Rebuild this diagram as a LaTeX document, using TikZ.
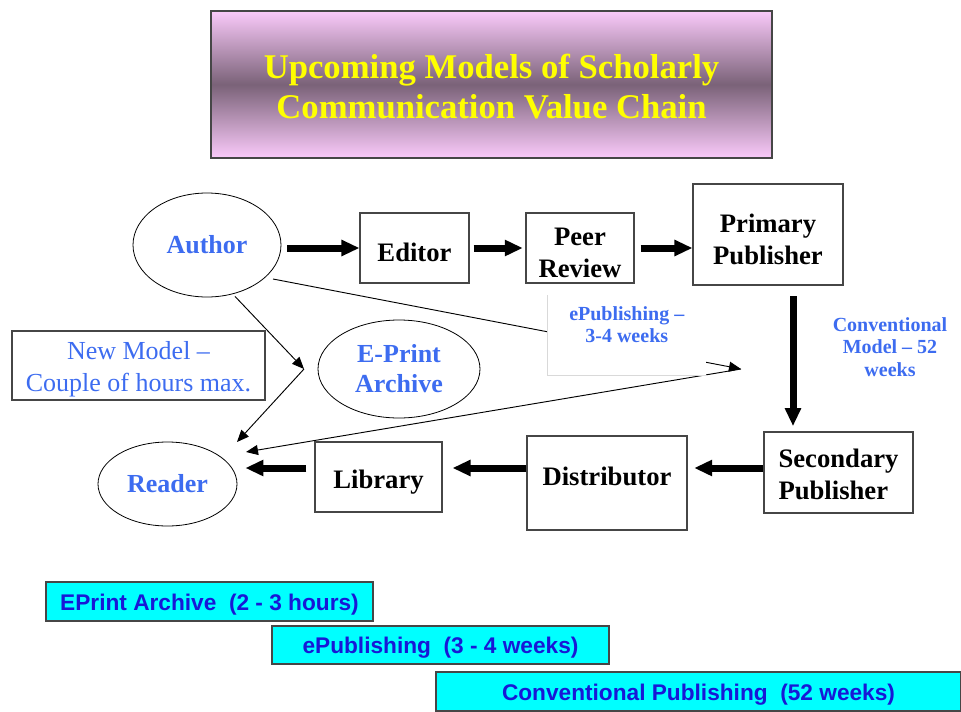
\documentclass[tikz,border=0pt]{standalone}
\usepackage{fontspec}
\setmainfont{Liberation Serif}
\newfontfamily\barfont{Liberation Sans}
\usetikzlibrary{arrows.meta}
\usetikzlibrary{shapes.geometric}
\usetikzlibrary{positioning}

\definecolor{labelblue}{RGB}{61,108,240}
\definecolor{barblue}{RGB}{24,24,214}
\definecolor{barcyan}{RGB}{0,255,255}
\definecolor{titlepink}{RGB}{250,202,250}
\definecolor{titlemauve}{RGB}{122,98,120}
\definecolor{titleyellow}{RGB}{255,255,0}
\definecolor{edgegray}{RGB}{70,70,70}

\tikzset{
  box/.style={draw=edgegray,line width=0.8pt,fill=white,align=center,text height=20pt,font=\bfseries\fontsize{20}{24}\selectfont},
  oval/.style={draw,ellipse,line width=0.6pt,fill=white,align=center,text=labelblue,font=\bfseries\fontsize{19.5}{22.5}\selectfont},
  flow/.style={line width=5.25pt,-{Triangle[length=13.5pt,width=11.5pt]}},
  link/.style={line width=0.7pt,-{Triangle[length=9pt,width=7.5pt]}},
  note/.style={text=labelblue,align=center,font=\bfseries\fontsize{15}{17}\selectfont},
  bar/.style={draw=edgegray,line width=0.8pt,fill=barcyan,text=barblue,text height=16.5pt,text depth=3.5pt,font=\barfont\bfseries\fontsize{17}{20}\selectfont},
}

\begin{document}
\begin{tikzpicture}[x=0.75pt,y=-0.75pt]
  \useasboundingbox (0,0) rectangle (961,711);

  % title
  \node[draw=edgegray,line width=0.8pt,top color=titlepink,bottom color=titlepink,middle color=titlemauve,
        minimum width=420.75pt,minimum height=110.25pt,align=center,text=titleyellow,text height=51pt,
        font=\bfseries\fontsize{26}{29.5}\selectfont] (title) at (491.5,84.5)
        {Upcoming Models of Scholarly\\Communication Value Chain};

  % conventional chain
  \node[oval,minimum width=111pt,minimum height=78pt] (Author) at (207,245) {Author};
  \node[box,minimum width=81.75pt,minimum height=52.5pt] (Editor) at (414.5,248) {Editor};
  \node[box,minimum width=81pt,minimum height=52.5pt,text height=44pt] (Peer) at (580,248) {Peer\\Review};
  \node[box,minimum width=112.5pt,minimum height=75.75pt,text height=45pt] (Primary) at (768,234.5) {Primary\\Publisher};
  \node[box,minimum width=111.75pt,minimum height=60.75pt,align=left,text height=40.5pt] (Secondary) at (838.5,472.5) {Secondary\\Publisher};
  \node[box,minimum width=120pt,minimum height=70.5pt,text depth=17pt] (Distributor) at (607,483) {Distributor};
  \node[box,minimum width=95.25pt,minimum height=52.5pt,text height=22pt] (Library) at (378.5,477) {Library};
  \node[oval,minimum width=104.25pt,minimum height=63pt] (Reader) at (167.5,484) {Reader};

  % new model
  \node[oval,minimum width=121.5pt,minimum height=73.5pt] (EPrint) at (399,369) {E-Print\\Archive};
  \node[draw=edgegray,line width=0.8pt,minimum width=189.75pt,minimum height=51.75pt,align=center,inner ysep=1pt,
        text=labelblue,text height=43pt,font=\fontsize{19.5}{24}\selectfont] (NewModel) at (138.5,365.5) {New Model --\\Couple of hours max.};

  \coordinate (epa) at (304,369);
  \coordinate (epub) at (741,369);
  \coordinate (row) at (0,468);
  \coordinate (col) at (793,0);

  % thin links
  \draw[link] (Author.south) ++(28,-1) -- (epa);
  \draw[link] (epa) -- (237,442);
  \draw[link] (Author) ++(66,34) -- (epub);
  \draw[link] (epub) -- (246,452);

  \node[fill=white,minimum width=119.25pt,minimum height=60pt,inner sep=2pt,anchor=north west,
        note,text depth=16pt] (EpubNote) at (547,295) {ePublishing --\\3-4 weeks};
  \draw[black!15,line width=0.6pt] (EpubNote.north west) -- (EpubNote.south west) -- (EpubNote.south east);

  \node[note] (ConvNote) at (890,347) {Conventional\\Model -- 52\\weeks};

  % thick flow
  \draw[flow,shorten <=4.5pt] (Author.east |- Editor.west) -- (Editor.west);
  \draw[flow,shorten <=3pt,shorten >=2pt] (Editor.east) -- (Peer.west);
  \draw[flow,shorten <=4.5pt] (Peer.east) -- (Peer.east -| Primary.west);
  \draw[flow,shorten <=8pt,shorten >=4pt] (col |- Primary.south) -- (col |- Secondary.north);
  \draw[flow,shorten >=5pt] (Secondary.west |- row) -- (Distributor.east |- row);
  \draw[flow,shorten >=7.5pt] (Distributor.west |- row) -- (Library.east |- row);
  \draw[flow,shorten <=6pt,shorten >=6pt] (Library.west |- row) -- (Reader.east |- row);

  % time bars
  \node[bar,minimum width=245.25pt,minimum height=29.25pt] (BarEPrint) at (209.5,601.5) {EPrint Archive\ \ (2 - 3 hours)};
  \node[bar,minimum width=252.75pt,minimum height=28.5pt] (BarEpub) at (440.5,645) {ePublishing\ \ (3 - 4 weeks)};
  \node[bar,minimum width=393.75pt,minimum height=29.25pt] (BarConv) at (698.5,691.5) {Conventional Publishing\ \ (52 weeks)};
\end{tikzpicture}
\end{document}
